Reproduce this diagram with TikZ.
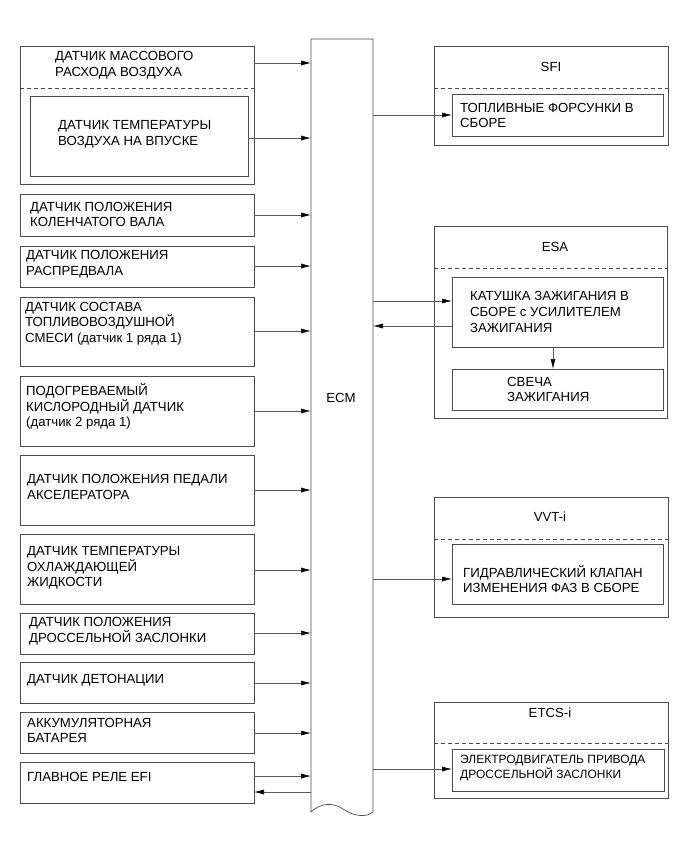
\documentclass[tikz,border=0pt]{standalone}
\usepackage{fontspec}
\setmainfont{Liberation Sans}
\usetikzlibrary{arrows.meta}
\begin{document}
\begin{tikzpicture}[x=1pt,y=-1pt,
  box/.style={draw=black!70, line width=0.7pt, anchor=north west, inner sep=0pt, outer sep=0pt},
  txt/.style={anchor=west, align=left, inner sep=0pt, font=\fontsize{13.2}{15.6}\selectfont},
  smalltxt/.style={anchor=west, align=left, inner sep=0pt, font=\fontsize{12}{12.6}\selectfont},
  ttl/.style={inner sep=0pt, font=\fontsize{13.2}{15.6}\selectfont},
  arr/.style={draw=black!65, line width=0.6pt, -{Latex[length=10pt,width=5pt,black]}},
  dashline/.style={draw=black!70, line width=0.6pt, dash pattern=on 4pt off 3pt}]
\useasboundingbox (0,0) rectangle (691,854);
% ECM
\node[inner sep=0pt, outer sep=0pt, minimum width=62, minimum height=773, anchor=north west] (ecm) at (311,39) {};
\draw[draw=black!70, line width=0.7pt] (ecm.south west) -- (ecm.north west) -- (ecm.north east) -- (ecm.south east)
  .. controls (366,818) and (353,816) .. (343,809) .. controls (333,802) and (320,803) .. (ecm.south west);
\node[ttl] (ecmt) at (341,398) {ECM};
% left boxes
\node[box, minimum width=234, minimum height=138] (maf) at (20,46) {};
\draw[dashline] (maf.north west) ++(0,42) -- ++(234,0);
\node[txt] (maft) at (55,65) {ДАТЧИК МАССОВОГО\\РАСХОДА ВОЗДУХА};
\node[box, minimum width=218, minimum height=80] (iat) at (30,96) {};
\node[txt] (iatt) at (58,134.5) {ДАТЧИК ТЕМПЕРАТУРЫ\\ВОЗДУХА НА ВПУСКЕ};
\node[box, minimum width=234, minimum height=42] (ckp) at (20,194) {};
\node[txt] (ckpt) at (30,214.5) {ДАТЧИК ПОЛОЖЕНИЯ\\КОЛЕНЧАТОГО ВАЛА};
\node[box, minimum width=234, minimum height=41] (cmp) at (20,246) {};
\node[txt] (cmpt) at (26,264) {ДАТЧИК ПОЛОЖЕНИЯ\\РАСПРЕДВАЛА};
\node[box, minimum width=234, minimum height=69] (af) at (20,297) {};
\node[txt] (aft) at (25,323.5) {ДАТЧИК СОСТАВА\\ТОПЛИВОВОЗДУШНОЙ\\СМЕСИ (датчик 1 ряда 1)};
\node[box, minimum width=234, minimum height=70] (oxs) at (20,376) {};
\node[txt] (oxst) at (26,406.5) {ПОДОГРЕВАЕМЫЙ\\КИСЛОРОДНЫЙ ДАТЧИК\\(датчик 2 ряда 1)};
\node[box, minimum width=234, minimum height=70] (app) at (20,455) {};
\node[txt] (appt) at (27,487) {ДАТЧИК ПОЛОЖЕНИЯ ПЕДАЛИ\\АКСЕЛЕРАТОРА};
\node[box, minimum width=234, minimum height=70] (ect) at (20,534) {};
\node[txt] (ectt) at (27,568) {ДАТЧИК ТЕМПЕРАТУРЫ\\ОХЛАЖДАЮЩЕЙ\\ЖИДКОСТИ};
\node[box, minimum width=234, minimum height=41] (tps) at (20,613) {};
\node[txt] (tpst) at (29,631) {ДАТЧИК ПОЛОЖЕНИЯ\\ДРОССЕЛЬНОЙ ЗАСЛОНКИ};
\node[box, minimum width=234, minimum height=41] (ks) at (20,662) {};
\node[txt] (kst) at (27,680) {ДАТЧИК ДЕТОНАЦИИ};
\node[box, minimum width=234, minimum height=41] (bat) at (20,712) {};
\node[txt] (batt) at (27,730.5) {АККУМУЛЯТОРНАЯ\\БАТАРЕЯ};
\node[box, minimum width=234, minimum height=41] (rel) at (20,762) {};
\node[txt] (relt) at (27,777) {ГЛАВНОЕ РЕЛЕ EFI};
% left arrows
\foreach \n/\y in {maf/63, iat/138, ckp/215, cmp/266, af/331, oxs/411, app/490, ect/570, tps/633, ks/683, bat/733, rel/776}{
  \coordinate (y\n) at (0,\y);
  \draw[arr] (\n.east |- y\n) -- (ecm.west |- y\n);
}
\coordinate (yrelout) at (0,792);
\draw[arr] (ecm.west |- yrelout) -- (rel.east |- yrelout);
% SFI
\node[box, minimum width=234, minimum height=99] (sfi) at (434,46) {};
\draw[dashline] (sfi.north west) ++(0,42) -- ++(234,0);
\node[ttl] (sfit) at (551,67) {SFI};
\node[box, minimum width=211, minimum height=42] (inj) at (452,94) {};
\node[txt] (injt) at (460,115.5) {ТОПЛИВНЫЕ ФОРСУНКИ В\\СБОРЕ};
\coordinate (yinj) at (0,115);
\draw[arr] (ecm.east |- yinj) -- (inj.west |- yinj);
% ESA
\node[box, minimum width=233, minimum height=192] (esa) at (434,226) {};
\draw[dashline] (esa.north west) ++(0,42) -- ++(233,0);
\node[ttl] (esat) at (555,247) {ESA};
\node[box, minimum width=211, minimum height=70] (coil) at (452,277) {};
\node[txt] (coilt) at (470,312) {КАТУШКА ЗАЖИГАНИЯ В\\СБОРЕ с УСИЛИТЕЛЕМ\\ЗАЖИГАНИЯ};
\node[box, minimum width=211, minimum height=41] (plug) at (452,369) {};
\node[txt] (plugt) at (507,389.5) {СВЕЧА\\ЗАЖИГАНИЯ};
\coordinate (ycoilin) at (0,301);
\coordinate (ycoilout) at (0,326);
\coordinate (xplug) at (553,0);
\draw[arr] (ecm.east |- ycoilin) -- (coil.west |- ycoilin);
\draw[arr] (coil.west |- ycoilout) -- (ecm.east |- ycoilout);
\draw[arr] (xplug |- coil.south) -- (xplug |- plug.north);
% VVT-i
\node[box, minimum width=234, minimum height=120] (vvt) at (434,497) {};
\draw[dashline] (vvt.north west) ++(0,42) -- ++(234,0);
\node[ttl] (vvtt) at (550,517) {VVT-i};
\node[box, minimum width=211, minimum height=60] (ocv) at (452,544) {};
\node[txt] (ocvt) at (463,579) {ГИДРАВЛИЧЕСКИЙ КЛАПАН\\ИЗМЕНЕНИЯ ФАЗ В СБОРЕ};
\coordinate (yocv) at (0,579);
\draw[arr] (ecm.east |- yocv) -- (ocv.west |- yocv);
% ETCS-i
\node[box, minimum width=234, minimum height=96] (etcs) at (434,702) {};
\draw[dashline] (etcs.north west) ++(0,41) -- ++(234,0);
\node[ttl] (etcst) at (550,713) {ETCS-i};
\node[box, minimum width=212, minimum height=42] (mot) at (452,749) {};
\node[smalltxt] (mott) at (460,768) {ЭЛЕКТРОДВИГАТЕЛЬ ПРИВОДА\\ДРОССЕЛЬНОЙ ЗАСЛОНКИ};
\coordinate (ymot) at (0,769);
\draw[arr] (ecm.east |- ymot) -- (mot.west |- ymot);
\end{tikzpicture}
\end{document}
